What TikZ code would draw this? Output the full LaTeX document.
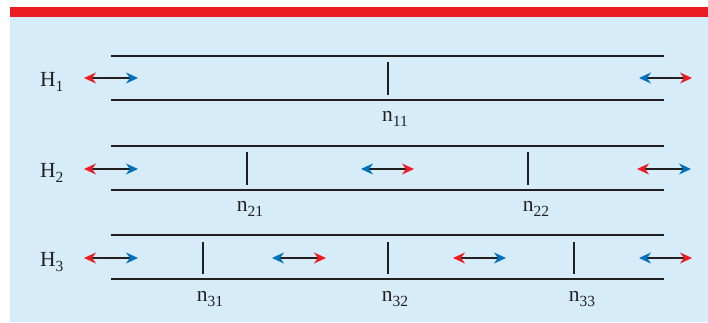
\documentclass[tikz,border=0pt]{standalone}
\usepackage{fontspec}
\setmainfont{Liberation Serif}
\usetikzlibrary{arrows.meta}
\definecolor{barred}{HTML}{ED1C24}
\definecolor{arrowblue}{HTML}{0072BC}
\definecolor{panel}{HTML}{D6ECF9}
\definecolor{ink}{HTML}{231F20}
\newcommand{\sublabel}[2]{#1\raisebox{-5pt}{\fontsize{15.5}{16}\selectfont #2}}

\begin{document}
\begin{tikzpicture}[x=1pt, y=-1pt,
  rail/.style={draw=ink, line width=2pt},
  divider/.style={draw=ink, line width=1.2pt},
  redblue/.style={{Stealth[length=12pt,width=11pt,barred]}-{Stealth[length=12pt,width=11pt,arrowblue]},
                  draw=ink, line width=1.6pt},
  bluered/.style={{Stealth[length=12pt,width=11pt,arrowblue]}-{Stealth[length=12pt,width=11pt,barred]},
                  draw=ink, line width=1.6pt},
  hlabel/.style={anchor=base west, inner sep=0pt, text=ink, font=\fontsize{21.5}{24}\selectfont},
  nlabel/.style={anchor=base, inner sep=0pt, text=ink, font=\fontsize{21.5}{24}\selectfont},
]
  \useasboundingbox (0,0) rectangle (708,322);
  \fill[panel] (10,17) rectangle (708,322);
  \fill[barred] (10,7) rectangle (708,17);

  % H1
  \draw[rail] (111,56) -- (664,56);
  \draw[rail] (111,100) -- (664,100);
  \draw[divider] (388,62) -- (388,95);
  \node[hlabel] (h1) at (40,86) {\sublabel{H}{1}};
  \draw[redblue] (84,78) -- (138,78);
  \draw[bluered] (639,78) -- (692,78);
  \node[nlabel] (n11) at (395,121) {\sublabel{n}{11}};

  % H2
  \draw[rail] (111,146) -- (664,146);
  \draw[rail] (111,190) -- (664,190);
  \draw[divider] (247,152) -- (247,185);
  \draw[divider] (528,152) -- (528,185);
  \node[hlabel] (h2) at (40,177) {\sublabel{H}{2}};
  \draw[redblue] (84,169) -- (138,169);
  \draw[bluered] (361,169) -- (414,169);
  \draw[redblue] (637,169) -- (691,169);
  \node[nlabel] (n21) at (250,211) {\sublabel{n}{21}};
  \node[nlabel] (n22) at (536,211) {\sublabel{n}{22}};

  % H3
  \draw[rail] (111,235) -- (664,235);
  \draw[rail] (111,279) -- (664,279);
  \draw[divider] (203,242) -- (203,274);
  \draw[divider] (388,242) -- (388,274);
  \draw[divider] (574,242) -- (574,274);
  \node[hlabel] (h3) at (40,266) {\sublabel{H}{3}};
  \draw[redblue] (84,258) -- (138,258);
  \draw[bluered] (272,258) -- (326,258);
  \draw[redblue] (453,258) -- (506,258);
  \draw[bluered] (639,258) -- (692,258);
  \node[nlabel] (n31) at (210,301) {\sublabel{n}{31}};
  \node[nlabel] (n32) at (395,301) {\sublabel{n}{32}};
  \node[nlabel] (n33) at (582,301) {\sublabel{n}{33}};
\end{tikzpicture}
\end{document}
